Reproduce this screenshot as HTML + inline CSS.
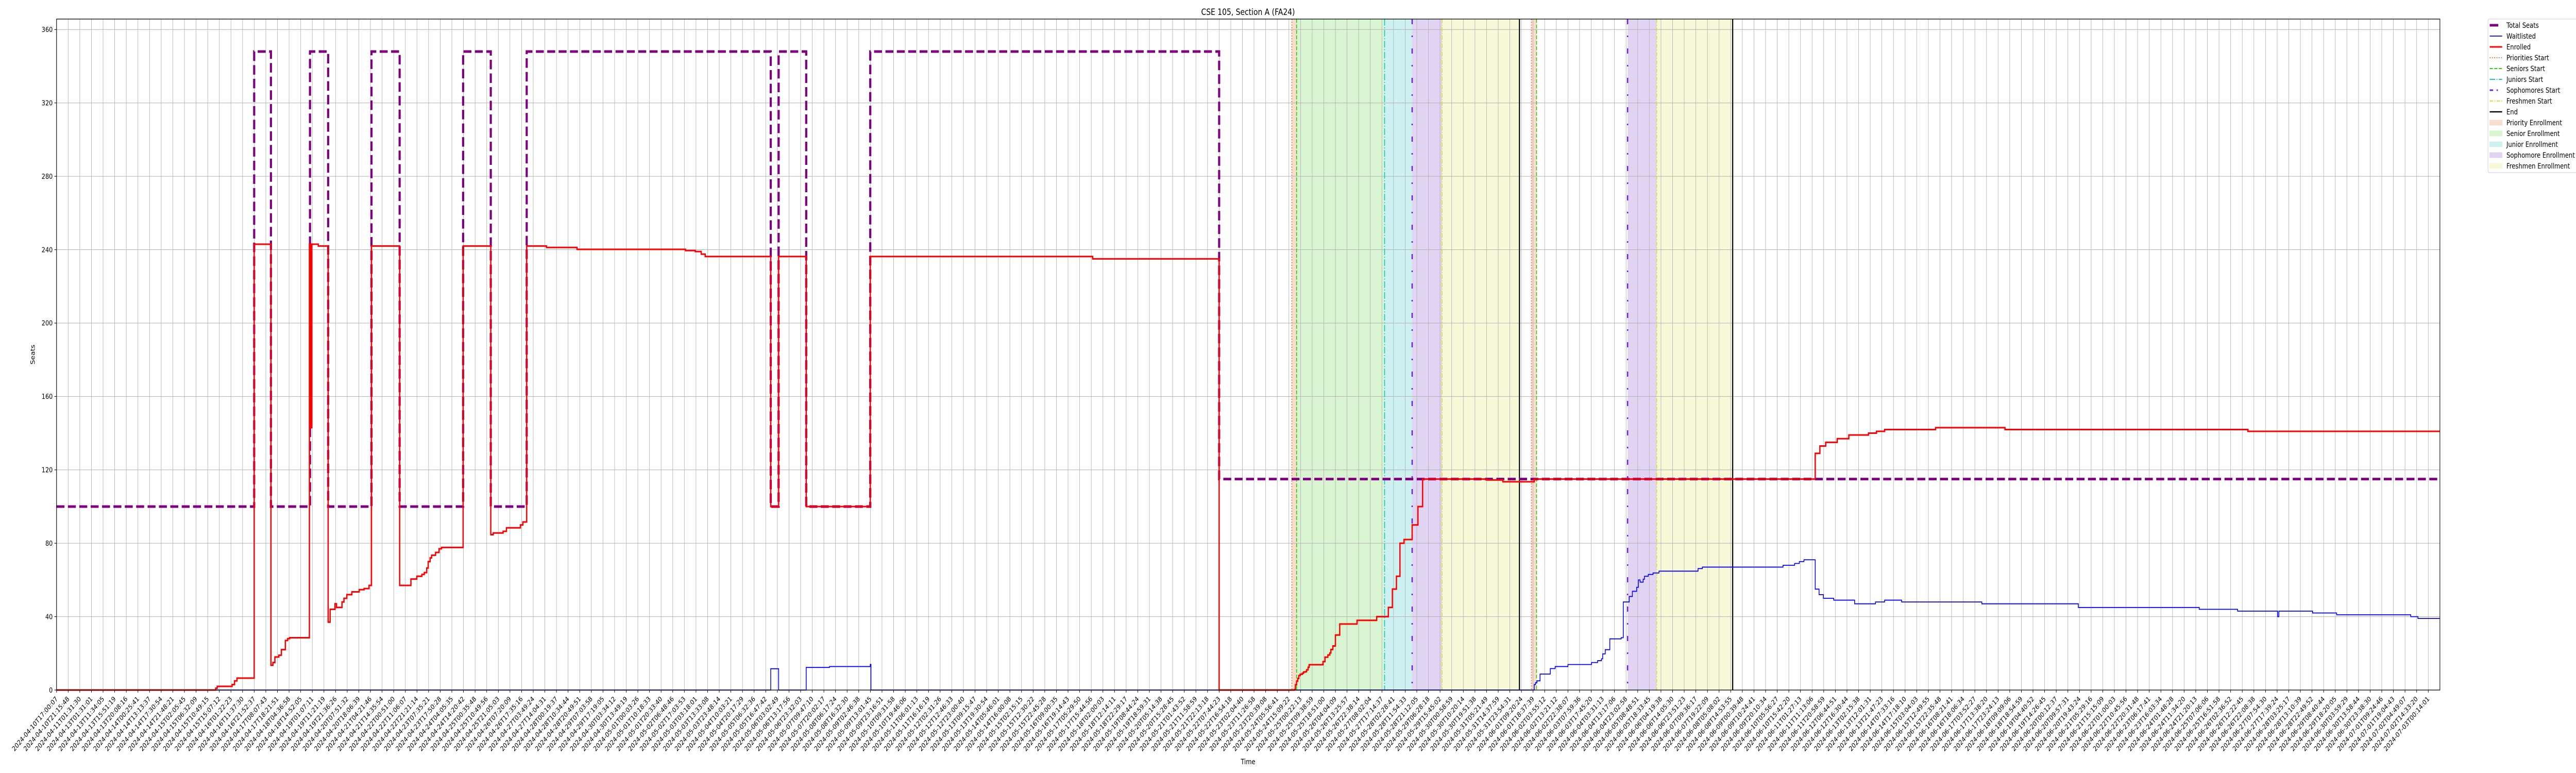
<!DOCTYPE html>
<html><head><meta charset="utf-8"><style>
html,body{margin:0;padding:0;background:#fff;width:100%;height:100%;overflow:hidden;}
svg{display:block;width:100vw;height:100vh;font-family:"DejaVu Sans","Liberation Sans",sans-serif;}
</style></head><body>
<svg id="chart" viewBox="0 0 6000 1500" preserveAspectRatio="none" xmlns="http://www.w3.org/2000/svg">
<rect x="0" y="0" width="6000" height="1500" fill="#fff"/>
<g id="spans"></g>
<g id="grid"></g>
<g id="vlines"></g>
<g id="series"></g>
<g id="axes"></g>
<text x="2907" y="29" font-size="16.7" text-anchor="middle">CSE 105, Section A (FA24)</text>
<text x="2907" y="1483" font-size="13.9" text-anchor="middle">Time</text>
<text x="0" y="0" font-size="13.9" text-anchor="middle" transform="translate(81,688) rotate(-90)">Seats</text>
<g id="legend"></g>
</svg>
<script>
// ---- data ----
const seatsT = [0,17.0,18.44,21.80,23.36,27.09,29.51,34.97,37.35,40.44,61.43,62.11,64.48,69.99,100.0,205.0];
const seatsV = [100,348,100,348,100,348,100,348,100,348,100,348,100,348,115,115];

const enrolledT = [0,13.69,13.82,15.10,15.31,15.52,17.0,18.44,18.61,18.78,19.12,19.34,19.68,19.88,20.05,21.75,21.85,21.96,22.51,23.36,23.53,23.95,24.08,24.55,24.72,24.97,25.40,26.03,26.45,26.88,27.09,29.51,30.48,30.99,31.42,31.63,31.84,31.97,32.13,32.26,32.60,32.90,33.11,34.97,37.35,37.56,38.41,38.70,39.90,40.11,40.44,42.14,44.77,54.10,54.94,55.45,55.79,61.43,62.11,64.48,69.99,89.12,100.0,106.47,106.56,106.66,106.76,106.85,106.97,107.15,107.25,107.4,107.52,107.65,107.74,108.93,109.1,109.35,109.52,109.61,109.78,110.0,110.37,111.86,113.55,114.55,114.9,115.25,115.55,115.9,116.6,117.1,117.5,123.0,124.4,127.1,151.27,151.67,152.17,153.16,154.16,155.85,156.54,157.24,161.62,167.59,188.49,205];
const enrolledV = [0,1,2,3,5,6.5,243,13.5,15,18,19,22,27,28,28.5,243,143,243,242,37,44,47,45,48,50,52,53.5,54.7,55.3,57,242,57,60.5,62,63,64,66.5,70,72,73.5,75,77,77.7,242,84.7,85.6,86.5,88.4,90,91.6,242,241.2,240.2,239.5,239,237.6,236.3,100,236.3,100,236.3,235,0,0.2,2.9,4.8,6.3,7.9,8.6,9.1,9.8,10,11,12.4,13.8,15.5,17.9,19.1,20.2,22.1,24,30,36,38,40,45,55,62,80,82,90,100,115,114.5,113.5,115,129,133,135,137,139,140,141,142,143,142,141,141];

const waitT = [0,61.43,62.11,64.48,66.48,69.99,70.05,127.1,127.21,127.34,127.6,128.48,128.9,130.0,132.03,132.55,132.88,132.99,133.21,133.6,134.58,134.76,135.27,135.54,135.91,136.06,136.21,136.47,136.58,136.91,137.32,137.83,141.19,141.56,148.5,149.5,149.9,150.3,151.27,151.6,151.97,152.86,154.66,156.45,157.24,158.7,165.6,173.9,184.3,187.6,191.04,191.15,194.05,196.12,202.49,203.11,205];
const waitV = [0,11.6,0,12.3,12.8,14,0,3,4,5,8.7,11.7,12.8,13.9,15,16,17,19.7,22,27.9,28.5,48,51,53.8,56,60,58.8,60.4,62,63,63.8,64.8,66.2,67,68,69,70,71,55,52,50,49,47,48,49,48,47,45,44,43,40,43,42,41,40,39,39];

const spanNames = ["priority","senior","junior","sophomore","freshmen","priority","sophomore","freshmen"];
const spanStart = [106.25,106.66,114.23,116.6,119.18,126.86,135.13,137.64];
const spanEnd   = [106.66,114.23,116.6,119.18,125.83,127.3,137.64,144.17];
const markerNames = ["priorities-start","seniors-start","juniors-start","sophomores-start","freshmen-start","end","priorities-start","seniors-start","sophomores-start","freshmen-start","end"];
const markerT = [106.25,106.66,114.23,116.6,119.18,125.83,126.86,127.3,135.13,137.64,144.17];

const yTicks = [0,40,80,120,160,200,240,280,320,360];
const labelAnchorIdx = [0,1,2,3,4,5,6,7,8,9,10,11,12,13,14,99,100,101,102,103,104,105,106,107,108,109,110,111,112,113,114,115,116,117,118,119,120,121,122,123,124,125,126,127,128,129,130,131,193,194,195,196,197,198,199,200,201,202,203,204];
const labelAnchorTime = ["2024-04-10T17:00:07","2024-04-10T21:15:48","2024-04-11T01:31:30","2024-04-13T01:31:01","2024-04-13T11:34:05","2024-04-13T15:51:19","2024-04-13T20:08:16","2024-04-14T00:25:41","2024-04-14T13:13:37","2024-04-14T17:30:54","2024-04-14T21:48:21","2024-04-15T02:05:45","2024-04-15T06:32:09","2024-04-15T10:49:15","2024-04-15T15:07:12","2024-05-21T22:13:18","2024-05-22T07:44:23","2024-05-22T16:54:18","2024-05-23T02:04:40","2024-05-23T11:26:58","2024-05-23T20:39:08","2024-05-24T05:56:41","2024-05-24T15:09:22","2024-05-25T00:22:13","2024-05-25T09:38:59","2024-05-25T18:51:00","2024-05-26T04:04:09","2024-05-26T13:25:57","2024-05-26T22:38:14","2024-05-27T08:02:04","2024-05-27T17:14:37","2024-05-28T02:28:41","2024-05-28T11:54:33","2024-05-28T21:12:05","2024-05-29T06:28:18","2024-05-29T15:45:02","2024-05-30T00:58:59","2024-05-30T10:20:14","2024-05-30T19:51:38","2024-05-31T05:21:49","2024-05-31T14:37:59","2024-05-31T23:54:31","2024-06-01T09:20:24","2024-06-01T18:37:39","2024-06-02T03:55:12","2024-06-02T13:21:12","2024-06-02T22:38:07","2024-06-03T07:59:36","2024-06-28T13:10:39","2024-06-28T22:49:52","2024-06-29T08:40:44","2024-06-29T18:20:05","2024-06-30T03:59:29","2024-06-30T13:58:44","2024-06-30T23:38:30","2024-07-01T09:24:46","2024-07-01T19:04:43","2024-07-02T04:49:07","2024-07-02T14:33:20","2024-07-03T00:14:01"];
const tickCount = 205;
// fill in tick labels between read anchors
const tickLabels = [];
for (let a = 0; a < labelAnchorIdx.length; a++) {
  tickLabels[labelAnchorIdx[a]] = labelAnchorTime[a];
  if (a + 1 < labelAnchorIdx.length) {
    const i0 = labelAnchorIdx[a], i1 = labelAnchorIdx[a+1];
    const d0 = Date.parse(labelAnchorTime[a] + "Z"), d1 = Date.parse(labelAnchorTime[a+1] + "Z");
    for (let i = i0 + 1; i < i1; i++) {
      const d = new Date(d0 + (d1 - d0) * (i - i0) / (i1 - i0) + ((i * 7919) % 59) * 1000);
      tickLabels[i] = d.toISOString().slice(0, 19);
    }
  }
}

// ---- layout ----
const NS = "http://www.w3.org/2000/svg";
const PL = 131.7, PR = 5683, PT = 37, PB = 1339;
const X0 = 0, X1 = 205.0, Y0 = 0, Y1 = 365.7;
function xs(t){ return PL + (t - X0) / (X1 - X0) * (PR - PL); }
function ys(v){ return PB - (v - Y0) / (Y1 - Y0) * (PB - PT); }
function mk(tag, attrs, parent){
  const e = document.createElementNS(NS, tag);
  for (const k in attrs) e.setAttribute(k, attrs[k]);
  parent.appendChild(e);
  return e;
}
const gSpans = document.getElementById("spans");
const gGrid = document.getElementById("grid");
const gV = document.getElementById("vlines");
const gS = document.getElementById("series");
const gA = document.getElementById("axes");
const gL = document.getElementById("legend");

const spanFill = {priority:"#f8dccf", senior:"#d9f4d0", junior:"#cdf0f1", sophomore:"#e1d4f3", freshmen:"#f7f8d8"};
for (let i = 0; i < spanStart.length; i++) {
  const r = mk("rect", {x: xs(spanStart[i]), y: PT, width: xs(spanEnd[i]) - xs(spanStart[i]), height: PB - PT, fill: spanFill[spanNames[i]]}, gSpans);
  
  
}

// grid
for (let i = 0; i < tickCount; i++) {
  const l = mk("line", {x1: xs(i), x2: xs(i), y1: PT, y2: PB, stroke: "#b0b0b0", "stroke-width": 1}, gGrid);
  
  
}
for (const v of yTicks) {
  const l = mk("line", {x1: PL, x2: PR, y1: ys(v), y2: ys(v), stroke: "#b0b0b0", "stroke-width": 1}, gGrid);
  
  
}

// marker lines
const markerStyle = {
  "priorities-start": {stroke:"#f06a2a", w:2, dash:"2,3.3"},
  "seniors-start": {stroke:"#33cc11", w:2, dash:"7.4,3.2"},
  "juniors-start": {stroke:"#11c8d0", w:2, dash:"12.8,3.2,2,3.2"},
  "sophomores-start": {stroke:"#6a22d8", w:3, dash:"10,22,3,22"},
  "freshmen-start": {stroke:"#e0e030", w:2, dash:"8,3,2,3"},
  "end": {stroke:"#000", w:2.6, dash:"none"}
};
for (let i = 0; i < markerT.length; i++) {
  const s = markerStyle[markerNames[i]];
  const l = mk("line", {x1: xs(markerT[i]), x2: xs(markerT[i]), y1: PT, y2: PB, stroke: s.stroke, "stroke-width": s.w, "stroke-dasharray": s.dash}, gV);
  
  
}

// series (step-post)
function stepPath(T, V){
  let d = "M" + xs(T[0]).toFixed(2) + "," + ys(V[0]).toFixed(2);
  for (let i = 1; i < T.length; i++) {
    d += "H" + xs(T[i]).toFixed(2) + "V" + ys(V[i]).toFixed(2);
  }
  return d;
}
const pSeats = mk("path", {d: stepPath(seatsT, seatsV), fill: "none", stroke: "#800080", "stroke-width": 5, "stroke-dasharray": "18.5,8"}, gS);


const pWait = mk("path", {d: stepPath(waitT, waitV), fill: "none", stroke: "#0000ff", "stroke-width": 1.8}, gS);


const pEnr = mk("path", {d: stepPath(enrolledT, enrolledV), fill: "none", stroke: "#ff0000", "stroke-width": 3}, gS);



// axes frame
const frame = mk("rect", {x: PL, y: PT, width: PR - PL, height: PB - PT, fill: "none", stroke: "#000", "stroke-width": 1.3}, gA);


for (const v of yTicks) {
  const t = mk("line", {x1: PL - 5, x2: PL, y1: ys(v), y2: ys(v), stroke: "#000", "stroke-width": 1.1}, gA);
  
  
  const lb = mk("text", {x: PL - 9, y: ys(v) + 4.8, "font-size": 13.5, "text-anchor": "end"}, gA);
  lb.textContent = String(v);
  
  
}
for (let i = 0; i < tickCount; i++) {
  const x = xs(i);
  const t = mk("line", {x1: x, x2: x, y1: PB, y2: PB + 5, stroke: "#000", "stroke-width": 1.1}, gA);
  
  
  const lb = mk("text", {x: 0, y: 0, "font-size": 13.2, "text-anchor": "end", transform: "translate(" + (x + 3.5).toFixed(2) + ",1357) rotate(-45)"}, gA);
  lb.textContent = tickLabels[i];
  
  
}

// legend
const legBox = mk("rect", {x: 5795, y: 37, width: 240, height: 298, rx: 3, fill: "#fff", "fill-opacity": 0.8, stroke: "#cccccc", "stroke-width": 1}, gL);


const legLabels = ["Total Seats","Waitlisted","Enrolled","Priorities Start","Seniors Start","Juniors Start","Sophomores Start","Freshmen Start","End","Priority Enrollment","Senior Enrollment","Junior Enrollment","Sophomore Enrollment","Freshmen Enrollment"];
const legKinds = [
  {type:"line", stroke:"#800080", w:5, dash:"none", x2:5819},
  {type:"line", stroke:"#0000ff", w:1.8, dash:"none"},
  {type:"line", stroke:"#ff0000", w:3, dash:"none"},
  {type:"line", stroke:"#f06a2a", w:2, dash:"2,3.3"},
  {type:"line", stroke:"#33cc11", w:2, dash:"7.4,3.2"},
  {type:"line", stroke:"#11c8d0", w:2, dash:"12.8,3.2,2,3.2"},
  {type:"line", stroke:"#6a22d8", w:3, dash:"8,8,3,30"},
  {type:"line", stroke:"#e0e030", w:2, dash:"8,3,2,3"},
  {type:"line", stroke:"#000", w:2.6, dash:"none"},
  {type:"patch", fill:"#f8dccf"},
  {type:"patch", fill:"#d9f4d0"},
  {type:"patch", fill:"#cdf0f1"},
  {type:"patch", fill:"#e1d4f3"},
  {type:"patch", fill:"#f7f8d8"}
];
for (let i = 0; i < legLabels.length; i++) {
  const cy = 49 + i * 21;
  const k = legKinds[i];
  let h;
  if (k.type === "line") {
    h = mk("line", {x1: 5799, x2: k.x2 || 5828, y1: cy, y2: cy, stroke: k.stroke, "stroke-width": k.w, "stroke-dasharray": k.dash}, gL);
  } else {
    h = mk("rect", {x: 5799, y: cy - 5, width: 29, height: 10, fill: k.fill, stroke: k.fill}, gL);
  }
  
  
  const tx = mk("text", {x: 5838, y: cy + 5, "font-size": 13.9}, gL);
  tx.textContent = legLabels[i];
  
  
}
</script>
</body></html>
